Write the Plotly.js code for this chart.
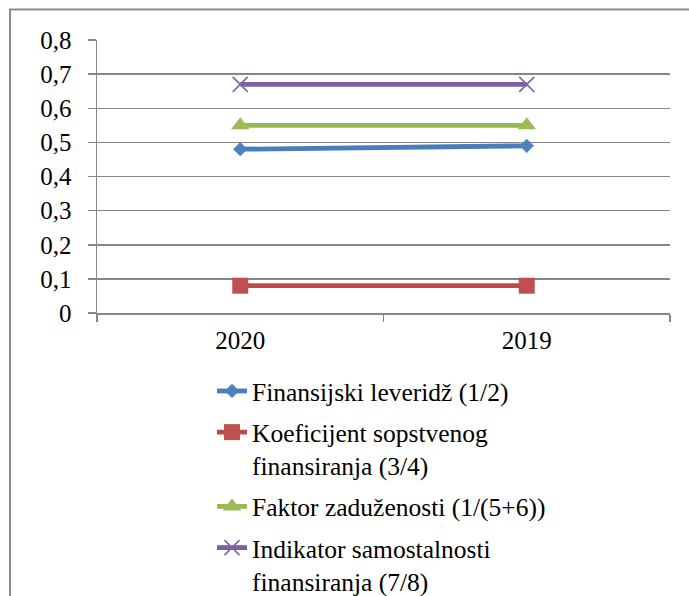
<!DOCTYPE html>
<html>
<head>
<meta charset="utf-8">
<script src="https://cdn.plot.ly/plotly-3.0.1.min.js"></script>
<style>
html,body{margin:0;padding:0;background:#fff;}
#chart{width:689px;height:596px;}
</style>
</head>
<body>
<div id="chart"></div>
<script>
const categories = ['2020', '2019'];
const seriesNames = [
  'Finansijski leveridž (1/2)',
  'Koeficijent sopstvenog<br>finansiranja (3/4)',
  'Faktor zaduženosti (1/(5+6))',
  'Indikator samostalnosti<br>finansiranja (7/8)'
];
const finansijskiLeveridz = [0.48, 0.49];
const koeficijentSopstvenog = [0.08, 0.08];
const faktorZaduzenosti = [0.55, 0.55];
const indikatorSamostalnosti = [0.67, 0.67];
const yTicks = [0, 0.1, 0.2, 0.3, 0.4, 0.5, 0.6, 0.7, 0.8];

const lineColors = ['#4A7EBB', '#BE4B48', '#98B954', '#7D60A0'];
const markerColors = ['#4F81BD', '#C0504D', '#9BBB59', '#8064A2'];
const symbols = ['diamond', 'square', 'triangle-up', 'x-thin'];
const sizes = [11, 16, 16, 15];
const values = [finansijskiLeveridz, koeficijentSopstvenog, faktorZaduzenosti, indikatorSamostalnosti];

const FONT = 'Liberation Serif, Times New Roman, Liberation Sans, sans-serif';

const traces = values.map((v, i) => ({
  type: 'scatter',
  mode: 'lines+markers',
  x: categories,
  y: v,
  name: seriesNames[i],
  legendgroup: 'g' + i,
  line: {color: lineColors[i], width: 4.8},
  marker: {
    symbol: symbols[i],
    size: sizes[i],
    color: markerColors[i],
    line: symbols[i] === 'x-thin' ? {color: markerColors[i], width: 1.6} : {width: 0}
  }
}));

const L = 97, R = 19, T = 39.5, B = 283;
const W = 689, H = 596;
const pw = W - L - R, ph = H - T - B;

const layout = {
  width: W, height: H,
  margin: {l: L, r: R, t: T, b: B, pad: 0, autoexpand: false},
  paper_bgcolor: '#ffffff',
  plot_bgcolor: '#ffffff',
  separators: ',.',
  font: {family: FONT, size: 25, color: '#000'},
  showlegend: true,
  legend: {
    orientation: 'v',
    x: (212 - L) / pw, xanchor: 'left', xref: 'paper',
    y: (T + ph - 368) / ph, yanchor: 'top', yref: 'paper',
    font: {family: FONT, size: 25.5, color: '#000'},
    valign: 'top',
    tracegroupgap: 5,
    bgcolor: 'rgba(0,0,0,0)',
    borderwidth: 0
  },
  xaxis: {
    type: 'category',
    categoryorder: 'array',
    categoryarray: categories,
    range: [-0.5, 1.5],
    showline: true, linecolor: '#868686', linewidth: 1.5,
    ticks: 'outside', tickson: 'boundaries', ticklen: 7, tickcolor: '#868686', tickwidth: 1.5,
    showgrid: false, zeroline: false,
    tickfont: {family: FONT, size: 25, color: '#000'},
    ticklabelstandoff: 4
  },
  yaxis: {
    range: [0, 0.8],
    tickvals: yTicks,
    showline: true, linecolor: '#868686', linewidth: 1.5,
    ticks: 'outside', ticklen: 8, tickcolor: '#868686', tickwidth: 1.5,
    showgrid: true, gridcolor: '#868686', gridwidth: 1.5,
    zeroline: false,
    tickfont: {family: FONT, size: 25, color: '#000'},
    ticklabelstandoff: 11
  },
  shapes: [{
    type: 'rect', xref: 'paper', yref: 'paper',
    x0: (10 - L) / pw, x1: (W + 20 - L) / pw,
    y0: (T + ph - (H + 20)) / ph, y1: (T + ph - 9) / ph,
    line: {color: '#8C8C8C', width: 2},
    fillcolor: 'rgba(0,0,0,0)',
    layer: 'below'
  }]
};

Plotly.newPlot('chart', traces, layout, {staticPlot: true, displayModeBar: false});
</script>
</body>
</html>
